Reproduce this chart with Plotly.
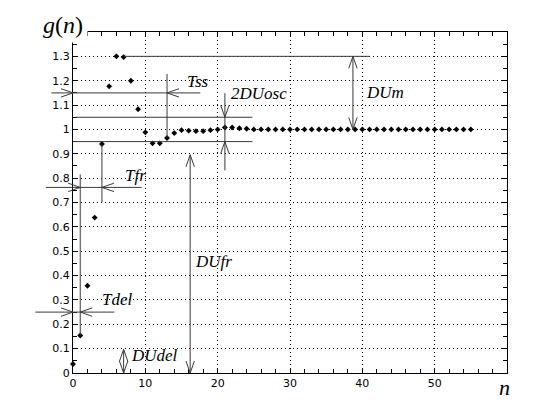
import plotly.graph_objects as go

# ---- data ----
n_vals = list(range(56))
g_vals = [0.037, 0.154, 0.358, 0.638, 0.94, 1.177, 1.30, 1.297, 1.20, 1.083,
          0.988, 0.943, 0.943, 0.965, 0.985, 0.997, 0.995, 0.993, 0.993, 0.997,
          1.0, 1.008, 1.008, 1.005, 1.003] + [1.0] * 31

x_ticks = [0, 10, 20, 30, 40, 50]
y_ticks = [0, 0.1, 0.2, 0.3, 0.4, 0.5, 0.6, 0.7, 0.8, 0.9, 1.0, 1.1, 1.2, 1.3]
y_tick_text = ["0", "0.1", "0.2", "0.3", "0.4", "0.5", "0.6", "0.7", "0.8", "0.9",
               "1", "1.1", "1.2", "1.3"]
X_RANGE = [0, 60]
Y_RANGE = [0, 1.4]

# annotation geometry (data coordinates)
hlines = [  # (y, x0, x1)
    (1.30, 7.0, 41.0),
    (1.15, -3.0, 17.6),
    (1.05, 0.4, 24.8),
    (0.95, 0.0, 24.8),
    (0.762, -3.75, 9.5),
    (0.25, -5.2, 5.7),
]
vlines = [  # (x, y0, y1)
    (38.7, 1.0, 1.3),
    (13.0, 0.965, 1.228),
    (21.0, 0.832, 1.149),
    (1.0, 0.154, 0.815),
    (4.0, 0.70, 0.94),
    (7.0, 0.0, 0.097),
    (16.2, 0.0, 0.896),
]
heads = [  # (x, y, direction)
    (38.7, 1.3, "up"), (38.7, 1.0, "down"),
    (0.0, 1.15, "right"), (13.0, 1.15, "left"),
    (21.0, 1.05, "down"), (21.0, 0.95, "up"),
    (1.0, 0.762, "right"), (4.0, 0.762, "left"),
    (0.0, 0.25, "right"), (1.0, 0.25, "left"),
    (7.0, 0.097, "up"), (7.0, 0.0, "down"),
    (16.2, 0.896, "up"), (16.2, 0.0, "down"),
]
labels = [  # (text, x, y)
    ("DUm", 40.2, 1.153),
    ("Tss", 15.5, 1.197),
    ("2DUosc", 21.5, 1.148),
    ("Tfr", 6.9, 0.81),
    ("Tdel", 3.75, 0.30),
    ("DUdel", 7.7, 0.071),
    ("DUfr", 16.6, 0.456),
]

# page body has an 8px margin, so the figure is 8px smaller than the window
W, H = 552, 412
ML, MR, MT, MB = 65, 53, 24, 47
PW, PH = W - ML - MR, H - MT - MB
LINE_COLOR = "#3a3a3a"
HEAD_LEN, HEAD_W = 12, 4.2


def px(x):
    return (x - X_RANGE[0]) / (X_RANGE[1] - X_RANGE[0])


def py(y):
    return (y - Y_RANGE[0]) / (Y_RANGE[1] - Y_RANGE[0])


fig = go.Figure()
fig.add_trace(go.Scatter(x=n_vals, y=g_vals, mode="markers",
                         marker=dict(symbol="diamond", size=4.5, color="black"),
                         showlegend=False, cliponaxis=False))

shapes = []
for y, x0, x1 in hlines:
    shapes.append(dict(type="line", xref="paper", yref="paper",
                       x0=px(x0), x1=px(x1), y0=py(y), y1=py(y),
                       line=dict(color=LINE_COLOR, width=1)))
for x, y0, y1 in vlines:
    shapes.append(dict(type="line", xref="paper", yref="paper",
                       x0=px(x), x1=px(x), y0=py(y0), y1=py(y1),
                       line=dict(color=LINE_COLOR, width=1)))
for x, y, d in heads:
    tx, ty = px(x), py(y)
    lx, wx = HEAD_LEN / PW, HEAD_W / PW
    ly, wy = HEAD_LEN / PH, HEAD_W / PH
    if d == "right":
        pts = [(tx - lx, ty + wy), (tx, ty), (tx - lx, ty - wy)]
    elif d == "left":
        pts = [(tx + lx, ty + wy), (tx, ty), (tx + lx, ty - wy)]
    elif d == "up":
        pts = [(tx - wx, ty - ly), (tx, ty), (tx + wx, ty - ly)]
    else:
        pts = [(tx - wx, ty + ly), (tx, ty), (tx + wx, ty + ly)]
    path = "M{:.5f},{:.5f} L{:.5f},{:.5f} L{:.5f},{:.5f}".format(*pts[0], *pts[1], *pts[2])
    shapes.append(dict(type="path", xref="paper", yref="paper", path=path,
                       line=dict(color=LINE_COLOR, width=1)))

annotations = []
for text, x, y in labels:
    annotations.append(dict(text="<i>" + text + "</i>", x=x, y=y, xref="x", yref="y",
                            xanchor="left", yanchor="middle", showarrow=False,
                            font=dict(family="Liberation Serif", size=17, color="black")))
annotations.append(dict(text="<i>g</i>(<i>n</i>)", x=-0.023, y=1.021,
                        xref="paper", yref="paper", xanchor="center", yanchor="middle",
                        showarrow=False, bgcolor="white", borderpad=4,
                        font=dict(family="Liberation Serif", size=24, color="black")))
annotations.append(dict(text="<i>n</i>", x=0.995, y=-0.043,
                        xref="paper", yref="paper", xanchor="center", yanchor="middle",
                        showarrow=False,
                        font=dict(family="Liberation Serif", size=22, color="black")))

axis_common = dict(showline=True, linecolor="black", linewidth=1, mirror="ticks",
                   ticks="inside", ticklen=5, tickcolor="black",
                   showgrid=True, gridcolor="black", gridwidth=1, griddash="1px,3px",
                   zeroline=False,
                   tickfont=dict(family="DejaVu Sans", size=11, color="black"))

fig.update_layout(
    width=W, height=H,
    margin=dict(l=ML, r=MR, t=MT, b=MB),
    paper_bgcolor="white", plot_bgcolor="white",
    xaxis=dict(range=X_RANGE, tickvals=x_ticks,
               minor=dict(dtick=2, ticks="inside", ticklen=4, tickcolor="black", showgrid=False),
               **axis_common),
    yaxis=dict(range=Y_RANGE, tickvals=y_ticks, ticktext=y_tick_text,
               minor=dict(dtick=0.05, ticks="inside", ticklen=4, tickcolor="black", showgrid=False),
               **axis_common),
    shapes=shapes,
    annotations=annotations,
)

fig.write_html("out.html")
